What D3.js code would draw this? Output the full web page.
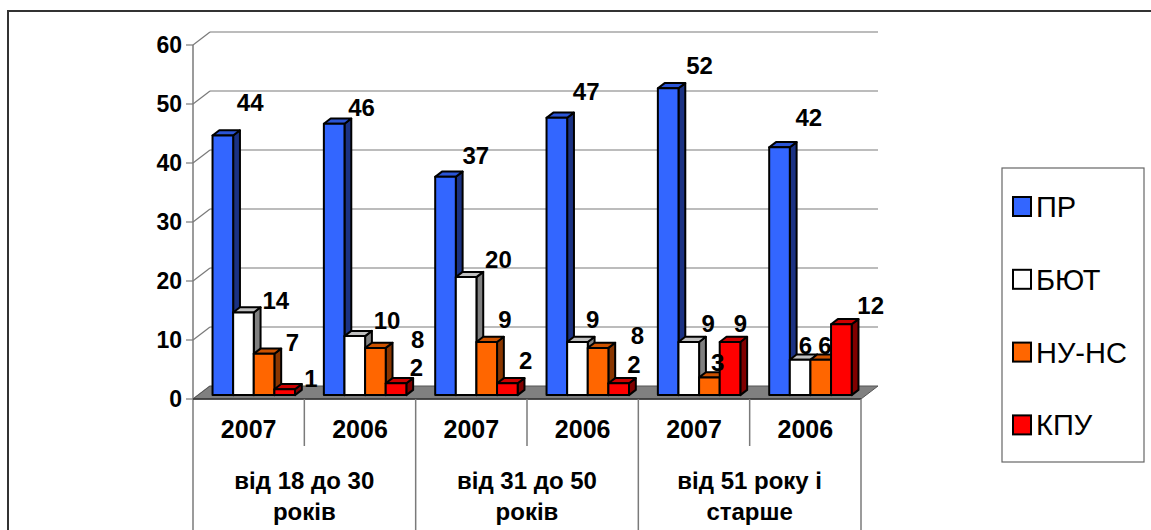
<!DOCTYPE html>
<html>
<head>
<meta charset="utf-8">
<script src="https://cdn.jsdelivr.net/npm/d3@7"></script>
<style>
  body { margin: 0; background: #fff; }
  svg { display: block; font-family: Arial, "Liberation Sans", sans-serif; }
</style>
</head>
<body>
<svg id="chart" width="1151" height="530"></svg>
<script>
// chart data
const years = ["2007", "2006", "2007", "2006", "2007", "2006"];
const ageGroups = [["від 18 до 30", "років"], ["від 31 до 50", "років"], ["від 51 року і", "старше"]];
const seriesNames = ["ПР", "БЮТ", "НУ-НС", "КПУ"];
const pr   = [44, 46, 37, 47, 52, 42];
const byut = [14, 10, 20, 9, 9, 6];
const nuns = [7, 8, 9, 8, 3, 6];
const kpu  = [1, 2, 2, 2, 9, 12];
const yTicks = [0, 10, 20, 30, 40, 50, 60];

const seriesValues = [pr, byut, nuns, kpu];

// face colours: front, top, side
const faces = [
  ["#3366FF", "#2B55D6", "#1B3283"],
  ["#FFFFFF", "#C0C0C0", "#808080"],
  ["#FF6600", "#CC5200", "#8A3600"],
  ["#FF0000", "#CC0000", "#800000"]
];

// label nudges (dx from bar's right edge, dy from its top), per series / category
const labelNudge = [
  [[17, -33], [17, -16], [20, -21], [19, -26], [21, -23], [19, -30]],
  [[22, -12], [22, -16], [22, -18], [5, -23], [9, -19], [-5, -14]],
  [[18, -11], [32, -9], [8, -23], [29, -13], [-2, -15], [-6, -14]],
  [[16, -11], [10, -16], [8, -23], [5, -19], [0, -19], [19, -19]]
];

const svg = d3.select("#chart");
const FONT_BOLD = 700;

// 3d box geometry
const left = 193, right = 861, y0px = 399, y60px = 45;
const depth = { dx: 17, dy: -13 };
const barFront = 0.3, barBack = 0.7;
const proj = (x, y, d) => [x + depth.dx * d, y + depth.dy * d];

const x = d3.scaleBand().domain(d3.range(years.length)).range([left, right]).padding(0);
const xs = d3.scaleBand().domain(d3.range(seriesNames.length))
  .range([0, x.bandwidth()]).paddingInner(0).paddingOuter(0.7);
const y = d3.scaleLinear().domain([0, 60]).range([y0px, y60px]);

// outer frame (runs off the page on the right and bottom)
svg.append("rect")
  .attr("x", 8).attr("y", 11).attr("width", 1300).attr("height", 700)
  .attr("fill", "none").attr("stroke", "#333").attr("stroke-width", 2);

// walls: back gridlines, side diagonals, ticks
const grid = svg.append("g").attr("stroke", "#7a7a7a").attr("stroke-width", 1.2);
yTicks.forEach(t => {
  const [bx, by] = proj(left, y(t), 1);
  const [ex] = proj(right, y(t), 1);
  if (t > 0) grid.append("line").attr("x1", bx).attr("y1", by).attr("x2", ex).attr("y2", by);
  grid.append("line").attr("x1", left).attr("y1", y(t)).attr("x2", bx).attr("y2", by);
  grid.append("line").attr("x1", left - 7).attr("y1", y(t)).attr("x2", left).attr("y2", y(t));
});

// floor
const floorPts = [proj(left, y(0), 0), proj(left, y(0), 1), proj(right, y(0), 1), proj(right, y(0), 0)];
svg.append("polygon")
  .attr("points", floorPts.map(p => p.join(",")).join(" "))
  .attr("fill", "#808080").attr("stroke", "#555").attr("stroke-width", 1);

// y axis line + category axis frame
const axis = svg.append("g").attr("stroke", "#7a7a7a").attr("stroke-width", 1.5);
axis.append("line").attr("x1", left).attr("y1", y(60)).attr("x2", left).attr("y2", 540);
axis.append("line").attr("x1", left).attr("y1", y(0)).attr("x2", right).attr("y2", y(0)).attr("stroke", "#333");
years.forEach((yr, i) => {
  const xe = x(i) + x.bandwidth();
  const full = i % 2 === 1;
  axis.append("line").attr("x1", xe).attr("y1", y(0)).attr("x2", xe).attr("y2", full ? 540 : 446);
});

// y tick labels
svg.append("g").selectAll("text").data(yTicks).join("text")
  .attr("x", 182).attr("y", d => y(d)).attr("dy", "0.36em")
  .attr("text-anchor", "end").attr("font-size", 23).attr("font-weight", FONT_BOLD)
  .text(d => d);

// bars
const bars = svg.append("g").attr("stroke", "#000").attr("stroke-width", 2).attr("stroke-linejoin", "round");
const poly = (pts, fill) => bars.append("polygon")
  .attr("points", pts.map(p => p.join(",")).join(" ")).attr("fill", fill);

years.forEach((yr, i) => {
  seriesValues.forEach((vals, j) => {
    const v = vals[i];
    const x0 = x(i) + xs(j), x1 = x0 + xs.bandwidth();
    const yb = y(0), yt = y(v);
    const [fc, tc, sc] = faces[j];
    poly([proj(x1, yt, barFront), proj(x1, yt, barBack), proj(x1, yb, barBack), proj(x1, yb, barFront)], sc);
    poly([proj(x0, yt, barFront), proj(x1, yt, barFront), proj(x1, yt, barBack), proj(x0, yt, barBack)], tc);
    poly([proj(x0, yt, barFront), proj(x1, yt, barFront), proj(x1, yb, barFront), proj(x0, yb, barFront)], fc);
  });
});

// value labels
const labels = svg.append("g").attr("font-size", 24).attr("font-weight", FONT_BOLD).attr("text-anchor", "middle");
years.forEach((yr, i) => {
  seriesValues.forEach((vals, j) => {
    const x1 = x(i) + xs(j) + xs.bandwidth();
    const [ax, ay] = proj(x1, y(vals[i]), barFront);
    const [nx, ny] = labelNudge[j][i];
    labels.append("text").attr("x", ax + nx).attr("y", ay + ny).attr("dy", "0.36em").text(vals[i]);
  });
});

// category labels
const cat = svg.append("g").attr("font-size", 24).attr("font-weight", FONT_BOLD).attr("text-anchor", "middle");
years.forEach((yr, i) => {
  cat.append("text").attr("x", x(i) + x.bandwidth() / 2).attr("y", 438).attr("font-size", 25).text(yr);
});
ageGroups.forEach((lines, g) => {
  const cx = x(g * 2) + x.bandwidth();
  lines.forEach((ln, k) => {
    cat.append("text").attr("x", cx).attr("y", 489 + k * 31).text(ln);
  });
});

// legend
const lg = svg.append("g");
lg.append("rect").attr("x", 1002).attr("y", 168).attr("width", 142).attr("height", 294)
  .attr("fill", "#fff").attr("stroke", "#666").attr("stroke-width", 1.2);
seriesNames.forEach((name, j) => {
  const cy = 206.5 + j * 72.8;
  lg.append("rect").attr("x", 1013).attr("y", cy - 9.5).attr("width", 18).attr("height", 19)
    .attr("fill", faces[j][0]).attr("stroke", "#000").attr("stroke-width", 2);
  lg.append("text").attr("x", 1036).attr("y", cy).attr("dy", "0.36em")
    .attr("font-size", 29).text(name);
});
</script>
</body>
</html>
